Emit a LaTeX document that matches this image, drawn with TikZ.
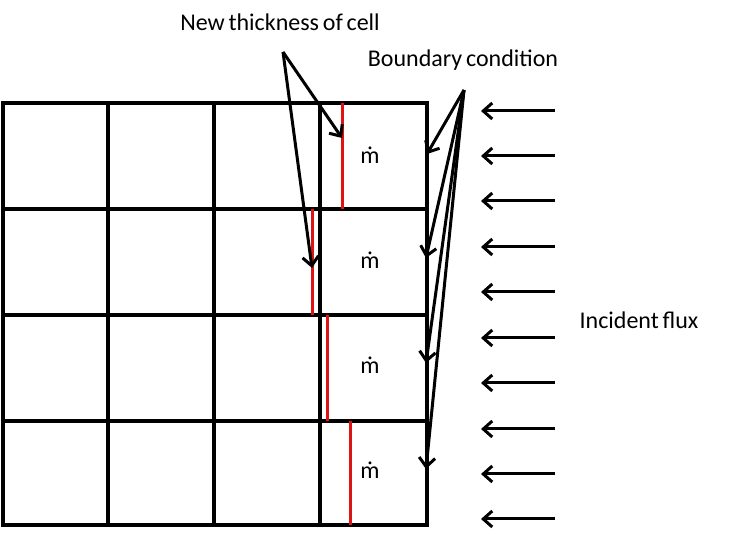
\documentclass[tikz,border=0pt]{standalone}
\usepackage{fontspec}
\setmainfont{Carlito}[WordSpace=0.7]
\usetikzlibrary{arrows.meta}
\begin{document}
\begin{tikzpicture}[x=1pt,y=-1pt,
  gridline/.style={line width=3.4pt,black},
  redline/.style={line width=3pt,draw={rgb,255:red,220;green,20;blue,20}},
  arr/.style={line width=3pt,-{Straight Barb[length=9pt,width=16pt,line width=3pt]}},
  lbl/.style={font=\fontsize{24}{28}\selectfont,inner sep=0pt},
  mdot/.style={font=\fontsize{24}{28}\selectfont,inner sep=0pt}]
\useasboundingbox (0,0) rectangle (737,534);
% grid
\draw[gridline] (3,103) rectangle (427,525);
\foreach \x in {108,214,320} \draw[gridline] (\x,103) -- (\x,525);
\foreach \y in {209,315,421} \draw[gridline] (3,\y) -- (427,\y);
% red lines
\draw[redline] (342,103) -- (342,209);
\draw[redline] (312,209) -- (312,315);
\draw[redline] (327,315) -- (327,421);
\draw[redline] (350,421) -- (350,525);
% m dot
\node[mdot] (m1) at (370,155) {ṁ};
\node[mdot] (m2) at (370,260) {ṁ};
\node[mdot] (m3) at (370,365) {ṁ};
\node[mdot] (m4) at (370,470) {ṁ};
% labels
\node[lbl] (ntc) at (280,22) {New thickness of cell};
\node[lbl] (bc) at (463,60) {Boundary condition};
\node[lbl] (inc) at (639,320) {Incident flux};
% arrows from labels
\coordinate (s1) at (283,52);
\coordinate (t1) at (342,138);
\coordinate (t2) at (312,268);
\draw[arr] (s1) -- (t1);
\draw[arr] (s1) -- (t2);
\coordinate (s2) at (464,90);
\coordinate (b1) at (427,154);
\coordinate (b2) at (426,258);
\coordinate (b3) at (426,363);
\coordinate (b4) at (426,469);
\foreach \b in {b1,b2,b3,b4} \draw[arr] (s2) -- (\b);
% incident flux arrows
\foreach \y [count=\i] in {111,156,201,247,292,338,383,429,474,519} {
  \coordinate (fa\i) at (555,\y);
  \coordinate (fb\i) at (481,\y);
  \draw[arr] (fa\i) -- (fb\i);
}
\end{tikzpicture}
\end{document}
